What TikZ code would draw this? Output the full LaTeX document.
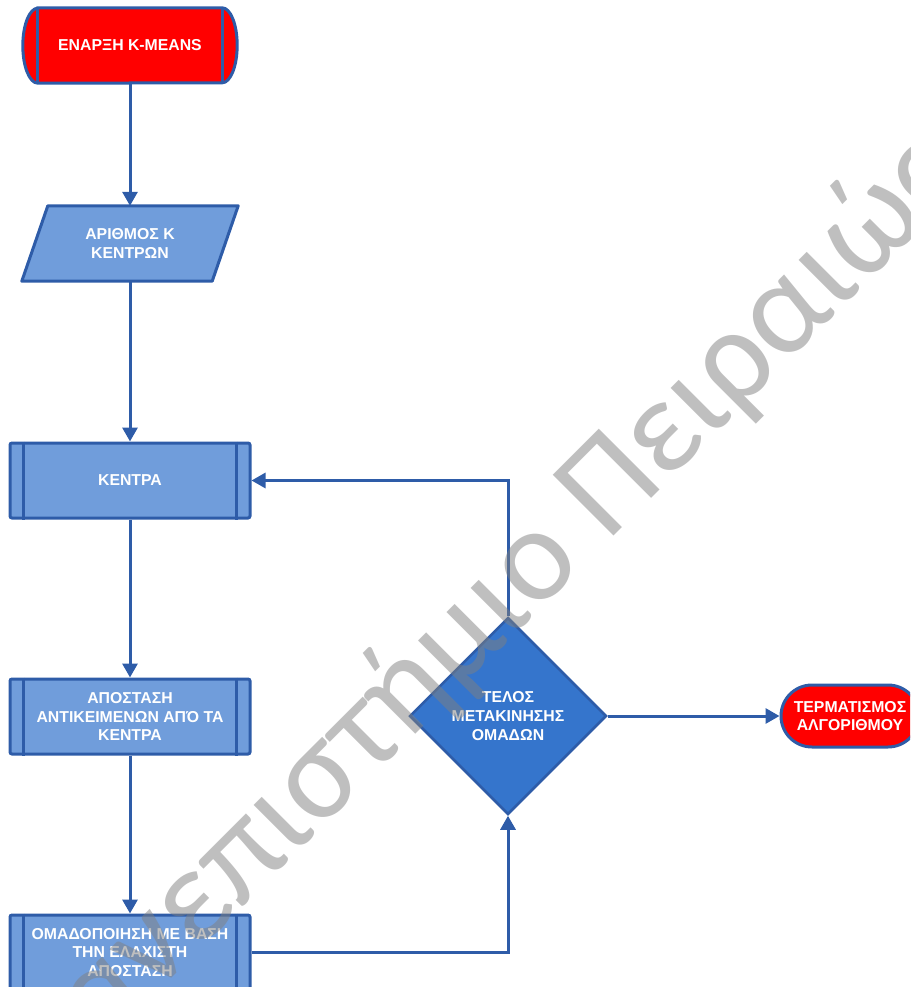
\documentclass[tikz,border=0pt]{standalone}
\usepackage{fontspec}
\setmainfont{Liberation Sans}
\newfontfamily\wmfont{Carlito}
\usetikzlibrary{shapes.geometric,arrows.meta,backgrounds}
\definecolor{bord}{HTML}{2E5CA8}
\definecolor{lblue}{HTML}{709DDB}
\definecolor{dblue}{HTML}{3575CC}
\definecolor{tred}{HTML}{FF0000}
\tikzset{
  lbl/.style={text=white, font=\fontsize{15.8}{18.7}\selectfont\bfseries, align=center, inner sep=0pt},
  procbox/.style={lbl, draw=bord, fill=lblue, line width=3pt, rounded corners=2pt, minimum width=240pt, minimum height=75pt},
  conn/.style={draw=bord, line width=3pt, -{Triangle[width=15pt,length=14pt]}},
  sideline/.style={draw=bord, line width=3pt},
  wm/.style={font=\wmfont\fontsize{134}{134}\selectfont, text=black!50, text opacity=0.5, rotate=45, inner sep=0pt}
}
\begin{document}
\begin{tikzpicture}[x=1pt,y=-1pt]
\useasboundingbox (0,0) rectangle (910,987);
\clip (0,0) rectangle (910,987);
% start terminal
\node[lbl, minimum width=184pt, minimum height=75pt] (start) at (130,45.5) {ΕΝΑΡΞΗ K-MEANS};
\begin{scope}[on background layer]
\filldraw[draw=bord, fill=tred, line width=3pt] (start.north west) -- (start.north east)
  arc[start angle=90, end angle=-90, x radius=15pt, y radius=37.5pt] -- (start.south west)
  arc[start angle=-90, end angle=-270, x radius=15pt, y radius=37.5pt] -- cycle;
\draw[sideline] (start.north west) -- (start.south west);
\draw[sideline] (start.north east) -- (start.south east);
\end{scope}
% input parallelogram
\node[lbl, minimum width=190pt, minimum height=75pt] (inp) at (130,243.5) {ΑΡΙΘΜΟΣ Κ\\ΚΕΝΤΡΩΝ};
\begin{scope}[on background layer]
\filldraw[draw=bord, fill=lblue, line width=3pt, line join=round]
  ([xshift=13pt]inp.north west) -- ([xshift=13pt]inp.north east)
  -- ([xshift=-13pt]inp.south east) -- ([xshift=-13pt]inp.south west) -- cycle;
\end{scope}
% process boxes
\node[procbox] (kentra) at (130,480.5) {ΚΕΝΤΡΑ};
\node[procbox] (apost) at (130,716.5) {ΑΠΟΣΤΑΣΗ\\ΑΝΤΙΚΕΙΜΕΝΩΝ ΑΠΌ ΤΑ\\ΚΕΝΤΡΑ};
\node[procbox] (omad) at (130,952.5) {ΟΜΑΔΟΠΟΙΗΣΗ ΜΕ ΒΑΣΗ\\ΤΗΝ ΕΛΑΧΙΣΤΗ\\ΑΠΟΣΤΑΣΗ};
\foreach \n in {kentra,apost,omad}{
  \draw[sideline] ([xshift=15pt]\n.north west) -- ([xshift=15pt]\n.south west);
  \draw[sideline] ([xshift=-15pt]\n.north east) -- ([xshift=-15pt]\n.south east);
}
% decision
\node[lbl, diamond, draw=bord, fill=dblue, line width=2.5pt, minimum width=197pt, minimum height=197pt] (dec) at (508,716) {ΤΕΛΟΣ\\ΜΕΤΑΚΙΝΗΣΗΣ\\ΟΜΑΔΩΝ};
% end terminal
\node[lbl, draw=bord, fill=tred, line width=3pt, rounded corners=31pt, minimum width=138pt, minimum height=62pt] (term) at (850,716) {ΤΕΡΜΑΤΙΣΜΟΣ\\ΑΛΓΟΡΙΘΜΟΥ};
% connectors
\draw[conn] (start.south) -- (inp.north);
\draw[conn] (inp.south) -- (kentra.north);
\draw[conn] (kentra.south) -- (apost.north);
\draw[conn] (apost.south) -- (omad.north);
\draw[conn] (omad.east) -| (dec.south);
\draw[conn] (dec.north) |- (kentra.east);
\draw[conn] (dec.east) -- (term.west);
% watermark
\node[wm, anchor=base west] (wmb) at (607,543) {Πειραιώς};
\node[wm, anchor=base east] (wma) at (586,564) {Πανεπιστήμιο};
\end{tikzpicture}
\end{document}
